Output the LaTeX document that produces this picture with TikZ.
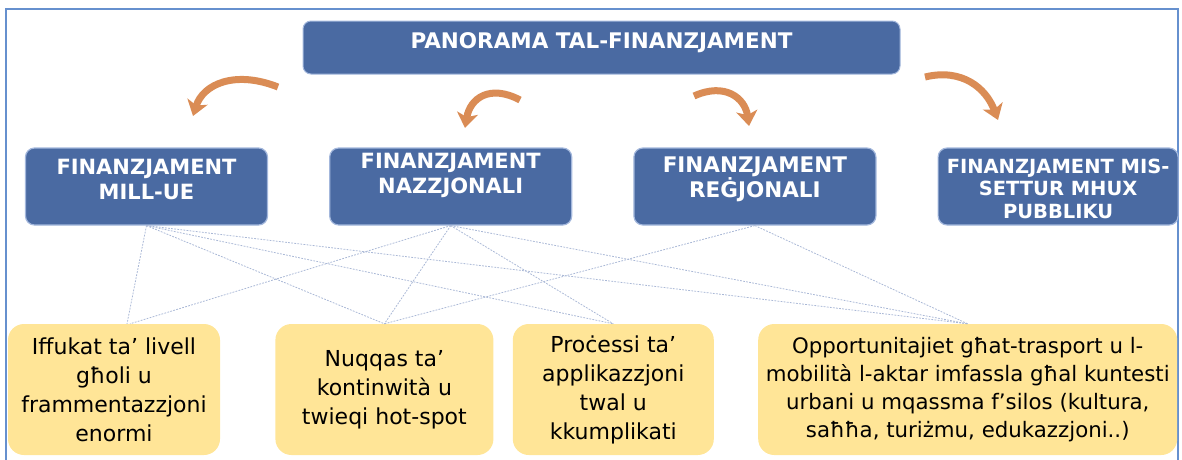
\documentclass[tikz,border=0pt]{standalone}
\usepackage{fontspec}
\setmainfont{DejaVu Sans}
\usetikzlibrary{positioning, arrows.meta}

\definecolor{boxblue}{HTML}{4A6AA2}
\definecolor{edgeblue}{HTML}{A3B7DC}
\definecolor{noteyellow}{HTML}{FFE597}
\definecolor{brushorange}{HTML}{DA8C55}
\definecolor{linkgray}{HTML}{AAB8D6}
\definecolor{frameblue}{HTML}{6690CE}

\begin{document}
\begin{tikzpicture}[
    x=1pt, y=-1pt,
    node distance=61pt,
    title/.style={rectangle, rounded corners=8pt, fill=boxblue, draw=edgeblue, line width=1pt, minimum width=597pt, minimum height=53pt},
    source/.style={rectangle, rounded corners=9pt, fill=boxblue, draw=edgeblue, line width=1.2pt, minimum width=242pt, minimum height=77pt},
    headtext/.style={text=white, align=center, inner sep=0pt, font=\bfseries\fontsize{21}{25}\selectfont},
    issue/.style={rectangle, rounded corners=16pt, fill=noteyellow, minimum height=131pt, align=center, inner sep=0pt, font=\fontsize{22}{29}\selectfont},
    link/.style={linkgray, line width=0.8pt, dash pattern=on 1.8pt off 1.3pt},
    arrow/.style={brushorange, line width=7pt, -{Stealth[length=15pt,width=21pt,inset=4pt]}}
]
    % Frame
    \useasboundingbox (0,0) rectangle (1182,459);
    \draw[frameblue, line width=1.5pt] (6,9) rectangle (1178,480);

    % Title
    \node[title] (pan) at (601.5,47.5) {};
    \node[headtext, font=\bfseries\fontsize{21.5}{25}\selectfont] (pan-t) at ([yshift=5pt]pan.center) {PANORAMA TAL-FINANZJAMENT};

    % Funding sources
    \node[source] (eu) at (146.5,186.5) {};
    \node[source, right=of eu] (nat) {};
    \node[source, right=of nat] (reg) {};
    \node[source, right=of reg, minimum width=240pt] (priv) {};

    \node[headtext] (eu-t) at ([yshift=7pt]eu.center) {FINANZJAMENT\\MILL-UE};
    \node[headtext] (nat-t) at ([yshift=11pt]nat.center) {FINANZJAMENT\\NAZZJONALI};
    \node[headtext, font=\bfseries\fontsize{21.5}{25}\selectfont] (reg-t) at ([yshift=7pt]reg.center) {FINANZJAMENT\\REĠJONALI};
    \node[headtext, font=\bfseries\fontsize{19.5}{22.5}\selectfont] (priv-t) at ([yshift=-2pt]priv.center) {FINANZJAMENT MIS-\\SETTUR MHUX\\PUBBLIKU};

    % Problems
    \node[issue, minimum width=212pt] (lvl) at (114,389.5) {Iffukat ta’ livell\\għoli u\\frammentazzjoni\\enormi};
    \node[issue, minimum width=218pt, right=55pt of lvl] (cont) {Nuqqas ta’\\kontinwità u\\twieqi hot-spot};
    \node[issue, minimum width=201pt, right=19pt of cont] (proc) {Proċessi ta’\\applikazzjoni\\twal u\\kkumplikati};
    \node[issue, minimum width=419pt, right=44pt of proc, font=\fontsize{21.3}{28}\selectfont] (opp) {Opportunitajiet għat-trasport u l-\\mobilità l-aktar imfassla għal kuntesti\\urbani u mqassma f’silos (kultura,\\saħħa, turiżmu, edukazzjoni..)};

    % Links
    \coordinate (lvl-a) at ([xshift=13pt]lvl.north);
    \coordinate (lvl-b) at ([xshift=16pt]lvl.north);
    \foreach \src/\dst in {eu/lvl-a, eu/cont.north, eu/proc.north, eu/opp.north,
                           nat/lvl-b, nat/cont.north, nat/proc.north, nat/opp.north,
                           reg/cont.north, reg/opp.north}
        \draw[link] (\src.south) -- (\dst);

    % Arrows
    \coordinate (eu-tail) at (278,87);
    \coordinate (eu-tip) at (193,116);
    \coordinate (nat-tail) at (520,100);
    \coordinate (nat-tip) at (465,128);
    \coordinate (reg-tail) at (694,96);
    \coordinate (reg-tip) at (749,126);
    \coordinate (priv-tail) at (925,77);
    \coordinate (priv-tip) at (998,120);
    \draw[arrow] (eu-tail) .. controls (235,70) and (203,84) .. (eu-tip);
    \draw[arrow] (nat-tail) .. controls (490,84) and (470,98) .. (nat-tip);
    \draw[arrow] (reg-tail) .. controls (725,82) and (745,98) .. (reg-tip);
    \draw[arrow] (priv-tail) .. controls (962,68) and (986,88) .. (priv-tip);

\end{tikzpicture}
\end{document}
